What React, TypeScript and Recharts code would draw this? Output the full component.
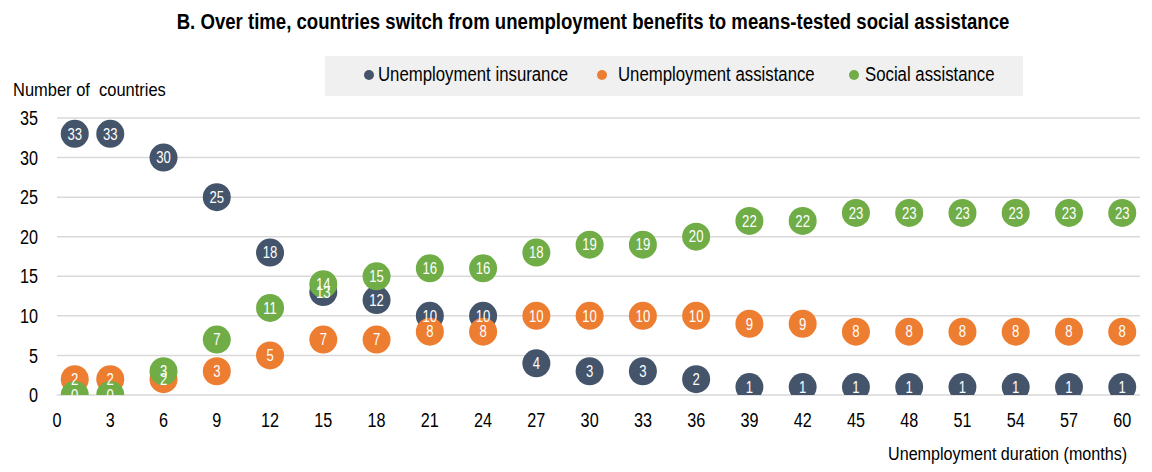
import React from 'react';
import { ScatterChart, Scatter, XAxis, YAxis, CartesianGrid } from 'recharts';

const months = [1, 3, 6, 9, 12, 15, 18, 21, 24, 27, 30, 33, 36, 39, 42, 45, 48, 51, 54, 57, 60];
const insurance = [33, 33, 30, 25, 18, 13, 12, 10, 10, 4, 3, 3, 2, 1, 1, 1, 1, 1, 1, 1, 1];
const assistance = [2, 2, 2, 3, 5, 7, 7, 8, 8, 10, 10, 10, 10, 9, 9, 8, 8, 8, 8, 8, 8];
const social = [0, 0, 3, 7, 11, 14, 15, 16, 16, 18, 19, 19, 20, 22, 22, 23, 23, 23, 23, 23, 23];

const xTicks = [0, 3, 6, 9, 12, 15, 18, 21, 24, 27, 30, 33, 36, 39, 42, 45, 48, 51, 54, 57, 60];
const yTicks = [0, 5, 10, 15, 20, 25, 30, 35];

// no Arial Narrow here, so squeeze Liberation Sans horizontally
const FONT = "'Liberation Sans', Arial, sans-serif";
const NARROW = 0.81;

const series = [
  { name: 'Unemployment insurance', color: '#44546A', values: insurance },
  { name: 'Unemployment assistance', color: '#ED7D31', values: assistance },
  { name: 'Social assistance', color: '#70AD47', values: social },
];

const toPoints = (vals: number[]) => months.map((m, i) => ({ x: m, y: vals[i] }));

// legend dot / text offsets inside the grey box
const legendDot = [39, 272, 524];
const legendText = [53, 293, 540];

function LegendBox() {
  return (
    <div style={{ position: 'absolute', left: 325, top: 56, width: 698, height: 40, background: '#F0F0F0' }}>
      {series.map((s, i) => (
        <React.Fragment key={s.name}>
          <span style={{ position: 'absolute', left: legendDot[i], top: 14, width: 10, height: 10, borderRadius: 5, background: s.color }} />
          <span style={{ position: 'absolute', left: legendText[i], top: 9, whiteSpace: 'nowrap', fontSize: 19.5, lineHeight: '19.5px', color: '#000', transform: 'scaleX(0.86)', transformOrigin: 'left' }}>
            {s.name}
          </span>
        </React.Fragment>
      ))}
    </div>
  );
}

const XTick = (p: any) => (
  <g transform={`translate(${p.x},${p.y})`}>
    <text transform={`scale(${NARROW},1)`} textAnchor="middle" dy="0.71em" fill="#000" fontSize={20} fontFamily={FONT}>
      {p.payload.value}
    </text>
  </g>
);

const YTick = (p: any) => (
  <g transform={`translate(${p.x},${p.y})`}>
    <text transform={`scale(${NARROW},1)`} textAnchor="end" dy="0.355em" fill="#000" fontSize={20} fontFamily={FONT}>
      {p.payload.value}
    </text>
  </g>
);

export default function App() {
  return (
    <div style={{ position: 'absolute', left: 0, top: 0, width: 1152, height: 472, background: '#fff', fontFamily: FONT }}>
      <div style={{ position: 'absolute', left: 593, top: 11, transform: 'translateX(-50%) scaleX(0.845)', whiteSpace: 'nowrap', fontWeight: 'bold', fontSize: 22, lineHeight: '22px', color: '#000' }}>
        B. Over time, countries switch from unemployment benefits to means-tested social assistance
      </div>
      <div style={{ position: 'absolute', left: 13, top: 81, whiteSpace: 'pre', fontSize: 18.5, lineHeight: '18.5px', color: '#000', transform: 'scaleX(0.89)', transformOrigin: 'left' }}>
        {'Number of  countries'}
      </div>
      <div style={{ position: 'absolute', right: 1152 - 1127, top: 445, whiteSpace: 'nowrap', fontSize: 18, lineHeight: '18px', color: '#000', transform: 'scaleX(0.895)', transformOrigin: 'right' }}>
        Unemployment duration (months)
      </div>
      <LegendBox />
      <ScatterChart width={1152} height={472} margin={{ top: 118, right: 12, bottom: 0, left: 17 }}>
        <CartesianGrid horizontal vertical={false} stroke="#D9D9D9" strokeWidth={1.5} />
        <XAxis
          type="number"
          dataKey="x"
          domain={[0, 61]}
          ticks={xTicks}
          interval={0}
          allowDataOverflow
          axisLine={false}
          tickLine={false}
          tickMargin={11.5}
          height={77}
          tick={<XTick />}
        />
        <YAxis
          type="number"
          dataKey="y"
          domain={[0, 35]}
          ticks={yTicks}
          interval={0}
          allowDataOverflow
          axisLine={false}
          tickLine={false}
          tickMargin={13}
          width={40}
          tick={<YTick />}
        />
        {series.map((s) => (
          <Scatter
            key={s.name}
            name={s.name}
            data={toPoints(s.values)}
            isAnimationActive={false}
            shape={(p: any) => <circle cx={p.cx} cy={p.cy} r={14} fill={s.color} />}
          />
        ))}
        {/* value labels drawn after all circles so they sit on top */}
        {series.map((s) => (
          <Scatter
            key={s.name + '-labels'}
            name={s.name + ' labels'}
            data={toPoints(s.values)}
            isAnimationActive={false}
            legendType="none"
            shape={(p: any) => (
              <g transform={`translate(${p.cx},${p.cy})`}>
                <text transform="scale(0.82,1)" dy="0.36em" textAnchor="middle" fill="#fff" fontSize={16} fontFamily={FONT}>
                  {p.payload?.y ?? p.y}
                </text>
              </g>
            )}
          />
        ))}
      </ScatterChart>
    </div>
  );
}
